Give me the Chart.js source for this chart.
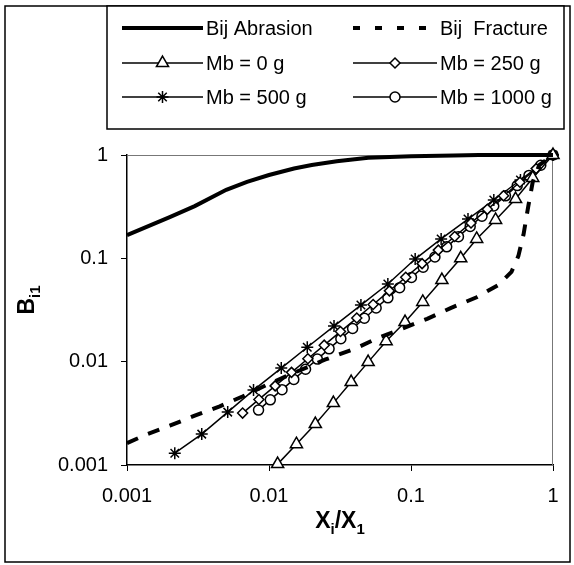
<!DOCTYPE html>
<html>
<head>
<meta charset="utf-8">
<script src="https://cdn.jsdelivr.net/npm/chart.js@4.4.1/dist/chart.umd.min.js"></script>
<style>
  html, body { margin: 0; padding: 0; background: #fff; }
</style>
</head>
<body>
<canvas id="myChart" width="574" height="565"></canvas>
<script>
// axis ticks
const xTickValues = [0.001, 0.01, 0.1, 1];
const xTickLabels = ['0.001', '0.01', '0.1', '1'];
const yTickValues = [0.001, 0.01, 0.1, 1];
const yTickLabels = ['0.001', '0.01', '0.1', '1'];

// Bij Abrasion
const abrX = [0.001, 0.002, 0.003, 0.005, 0.007, 0.01, 0.015, 0.02, 0.03, 0.05, 0.1, 0.2, 0.3, 0.5, 1];
const abrY = [0.168, 0.25, 0.32, 0.46, 0.55, 0.64, 0.74, 0.80, 0.87, 0.94, 0.97, 0.99, 1, 1, 1];

// Bij Fracture
const fracX = [0.001, 0.0014, 0.002, 0.003, 0.0045, 0.0065, 0.01, 0.015, 0.025, 0.04, 0.06, 0.08, 0.13, 0.19, 0.29, 0.41, 0.51, 0.57, 0.62, 0.67, 0.72, 0.8, 1];
const fracY = [0.00163, 0.0020, 0.0024, 0.0030, 0.0037, 0.0046, 0.0061, 0.0078, 0.0105, 0.0133, 0.0172, 0.020, 0.026, 0.033, 0.042, 0.055, 0.074, 0.105, 0.17, 0.32, 0.55, 0.8, 1];

// Mb = 0 g
const mb0X = [0.0115, 0.0156, 0.0212, 0.0284, 0.0379, 0.0499, 0.0668, 0.0908, 0.121, 0.165, 0.224, 0.290, 0.394, 0.545, 0.72, 1];
const mb0Y = [0.00102, 0.00159, 0.00249, 0.00397, 0.00635, 0.0099, 0.0158, 0.0242, 0.0378, 0.0617, 0.100, 0.154, 0.235, 0.375, 0.60, 1];

// Mb = 250 g
const mb250X = [0.00652, 0.00849, 0.01105, 0.01441, 0.01878, 0.02448, 0.03186, 0.04152, 0.05412, 0.07043, 0.0918, 0.1197, 0.1557, 0.203, 0.2646, 0.3448, 0.4486, 0.5848, 0.7611, 1];
const mb250Y = [0.00318, 0.00431, 0.00583, 0.00788, 0.01067, 0.01444, 0.01956, 0.02643, 0.03578, 0.04845, 0.06562, 0.08884, 0.1201, 0.1626, 0.2202, 0.298, 0.4036, 0.5454, 0.7385, 1];

// Mb = 500 g
const mb500X = [0.00217, 0.00336, 0.00512, 0.00778, 0.0122, 0.0186, 0.0287, 0.0444, 0.0687, 0.107, 0.163, 0.252, 0.383, 0.59, 1];
const mb500Y = [0.0013, 0.00199, 0.00325, 0.00531, 0.00867, 0.0138, 0.0221, 0.0353, 0.0564, 0.0984, 0.154, 0.240, 0.367, 0.573, 1];

// Mb = 1000 g
const mb1000X = [0.00844, 0.01021, 0.01235, 0.01495, 0.01809, 0.0219, 0.02649, 0.03206, 0.0388, 0.04695, 0.05681, 0.06875, 0.08318, 0.1007, 0.1218, 0.1474, 0.1784, 0.2158, 0.2611, 0.316, 0.3825, 0.4627, 0.5599, 0.6776, 0.8199, 1];
const mb1000Y = [0.0034, 0.00427, 0.00536, 0.00673, 0.00844, 0.01059, 0.0133, 0.0167, 0.02096, 0.02631, 0.03303, 0.04146, 0.05205, 0.06534, 0.08201, 0.1029, 0.1292, 0.1622, 0.2036, 0.2556, 0.3208, 0.4027, 0.5055, 0.6346, 0.7966, 1];

const FONT = '"Liberation Sans", Arial, sans-serif';
const pts = (xs, ys) => xs.map((x, i) => ({ x: x, y: ys[i] }));

function markerSet(label, xs, ys, style, radius) {
  return {
    label: label,
    data: pts(xs, ys),
    showLine: true,
    borderColor: '#000',
    borderWidth: 1.5,
    pointStyle: style,
    pointRadius: radius,
    pointBackgroundColor: '#fff',
    pointBorderColor: '#000',
    pointBorderWidth: 1.5,
    clip: false
  };
}

// text with subscripts, centred on (0,0) baseline
function drawRuns(ctx, runs, size) {
  const big = 'bold ' + size + 'px ' + FONT;
  const small = 'bold ' + Math.round(size * 0.65) + 'px ' + FONT;
  let total = 0;
  runs.forEach(r => { ctx.font = r.sub ? small : big; total += ctx.measureText(r.t).width; });
  let x = -total / 2;
  ctx.textAlign = 'left';
  ctx.textBaseline = 'alphabetic';
  runs.forEach(r => {
    ctx.font = r.sub ? small : big;
    ctx.fillText(r.t, x, r.sub ? size * 0.28 : 0);
    x += ctx.measureText(r.t).width;
  });
}

const framePlugin = {
  id: 'framePlugin',
  beforeDraw(chart) {
    const ctx = chart.ctx;
    ctx.save();
    ctx.fillStyle = '#fff';
    ctx.fillRect(0, 0, chart.width, chart.height);
    ctx.restore();
  },
  beforeDatasetsDraw(chart) {
    const { ctx, chartArea: a } = chart;
    ctx.save();
    ctx.strokeStyle = '#777';
    ctx.lineWidth = 1;
    ctx.beginPath();
    ctx.moveTo(a.left, a.top + 0.5);
    ctx.lineTo(a.right - 0.5, a.top + 0.5);
    ctx.lineTo(a.right - 0.5, a.bottom);
    ctx.stroke();
    ctx.restore();
  },
  afterDraw(chart) {
    const { ctx, chartArea: a } = chart;
    ctx.save();
    ctx.strokeStyle = '#000';
    ctx.lineWidth = 1.5;
    ctx.strokeRect(5, 6, 565, 556);
    ctx.fillStyle = '#000';
    // x title
    ctx.save();
    ctx.translate((a.left + a.right) / 2, 528);
    drawRuns(ctx, [{ t: 'X' }, { t: 'i', sub: true }, { t: '/X' }, { t: '1', sub: true }], 23);
    ctx.restore();
    // y title
    ctx.save();
    ctx.translate(34, (a.top + a.bottom) / 2 - 10);
    ctx.rotate(-Math.PI / 2);
    drawRuns(ctx, [{ t: 'B' }, { t: 'i1', sub: true }], 23);
    ctx.restore();
    ctx.restore();
  }
};

const boxLegend = {
  id: 'boxLegend',
  afterDraw(chart) {
    const ctx = chart.ctx;
    const box = { left: 107, top: 6, right: 564, bottom: 129 };
    const cols = [{ x1: 122, x2: 203 }, { x1: 353, x2: 437 }];
    const rows = [28, 63, 97];
    ctx.save();
    ctx.fillStyle = '#fff';
    ctx.fillRect(box.left, box.top, box.right - box.left, box.bottom - box.top);
    ctx.lineWidth = 1.5;
    ctx.strokeStyle = '#000';
    ctx.strokeRect(box.left, box.top, box.right - box.left, box.bottom - box.top);
    chart.data.datasets.forEach((ds, i) => {
      const c = cols[i % 2];
      const y = rows[Math.floor(i / 2)];
      ctx.beginPath();
      ctx.setLineDash(ds.borderDash ? [7, 15] : []);
      ctx.lineWidth = ds.borderWidth;
      ctx.strokeStyle = '#000';
      ctx.moveTo(c.x1, y);
      ctx.lineTo(c.x2, y);
      ctx.stroke();
      ctx.setLineDash([]);
      if (ds.pointRadius > 0 && Chart.helpers && Chart.helpers.drawPoint) {
        ctx.fillStyle = '#fff';
        ctx.strokeStyle = '#000';
        ctx.lineWidth = 1.5;
        Chart.helpers.drawPoint(ctx, {
          pointStyle: ds.pointStyle,
          rotation: 0,
          radius: ds.pointRadius,
          borderWidth: 1.5
        }, (c.x1 + c.x2) / 2, y);
      }
      ctx.fillStyle = '#000';
      ctx.font = '20px ' + FONT;
      ctx.textAlign = 'left';
      ctx.textBaseline = 'middle';
      ctx.fillText(ds.label, c.x2 + 3, y + 1);
    });
    ctx.restore();
  }
};

const ctx = document.getElementById('myChart').getContext('2d');

new Chart(ctx, {
  type: 'scatter',
  data: {
    datasets: [
      {
        label: 'Bij Abrasion',
        data: pts(abrX, abrY),
        showLine: true,
        borderColor: '#000',
        borderWidth: 4,
        pointRadius: 0,
        clip: false
      },
      {
        label: 'Bij  Fracture',
        data: pts(fracX, fracY),
        showLine: true,
        borderColor: '#000',
        borderWidth: 4,
        borderDash: [12, 11],
        pointRadius: 0,
        clip: false
      },
      markerSet('Mb = 0 g', mb0X, mb0Y, 'triangle', 7),
      markerSet('Mb = 250 g', mb250X, mb250Y, 'rectRot', 5),
      markerSet('Mb = 500 g', mb500X, mb500Y, 'star', 6),
      markerSet('Mb = 1000 g', mb1000X, mb1000Y, 'circle', 5)
    ]
  },
  options: {
    responsive: false,
    animation: false,
    devicePixelRatio: 1,
    layout: { padding: { top: 155, right: 21, left: 0, bottom: 0 } },
    plugins: {
      legend: { display: false },
      tooltip: { enabled: false }
    },
    scales: {
      x: {
        type: 'logarithmic',
        min: 0.001,
        max: 1,
        afterFit(scale) { scale.height = 100; },
        afterBuildTicks(scale) { scale.ticks = xTickValues.map(v => ({ value: v })); },
        ticks: {
          autoSkip: false,
          maxRotation: 0,
          padding: 13,
          color: '#000',
          font: { family: FONT, size: 20 },
          callback: (v, i) => xTickLabels[i]
        },
        grid: { drawOnChartArea: false, drawTicks: true, tickLength: 6, color: '#000', lineWidth: 1 },
        border: { color: '#000', width: 1.5 }
      },
      y: {
        type: 'logarithmic',
        min: 0.001,
        max: 1,
        afterFit(scale) { scale.width = 127; },
        afterBuildTicks(scale) { scale.ticks = yTickValues.map(v => ({ value: v })); },
        ticks: {
          autoSkip: false,
          padding: 13,
          color: '#000',
          font: { family: FONT, size: 20 },
          callback: (v, i) => yTickLabels[i]
        },
        grid: { drawOnChartArea: false, drawTicks: true, tickLength: 6, color: '#000', lineWidth: 1 },
        border: { color: '#000', width: 1.5 }
      }
    }
  },
  plugins: [framePlugin, boxLegend]
});
</script>
</body>
</html>
